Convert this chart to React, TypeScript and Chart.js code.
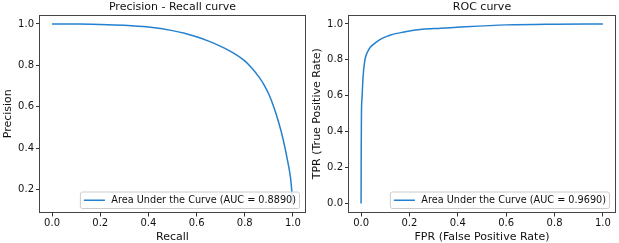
import React, { useEffect, useRef } from "react";
import { Chart, registerables } from "chart.js";

Chart.register(...registerables);

const FONT = "'DejaVu Sans', 'Liberation Sans', sans-serif";
const LINE_COLOR = "#2381cf";

// Precision - Recall curve
const prRecall = [0, 0.1, 0.2, 0.3, 0.4, 0.5, 0.55, 0.6, 0.65, 0.7, 0.75, 0.8, 0.83, 0.86, 0.88, 0.9, 0.92, 0.94, 0.96, 0.98, 0.99, 1.0];
const prPrecision = [1.0, 0.9995, 0.998, 0.994, 0.985, 0.968, 0.955, 0.938, 0.917, 0.892, 0.862, 0.822, 0.786, 0.742, 0.706, 0.66, 0.6, 0.527, 0.438, 0.325, 0.255, 0.13];
const prLabel = "Area Under the Curve (AUC = 0.8890)";

// ROC curve
const rocFpr = [0, 0.0005, 0.0015, 0.004, 0.008, 0.015, 0.025, 0.039, 0.06, 0.087, 0.122, 0.177, 0.253, 0.33, 0.426, 0.6, 0.8, 1.0];
const rocTpr = [0, 0.3, 0.5, 0.591, 0.702, 0.794, 0.84, 0.872, 0.896, 0.92, 0.939, 0.955, 0.97, 0.976, 0.984, 0.995, 0.999, 1.0];
const rocLabel = "Area Under the Curve (AUC = 0.9690)";

const xTickValues = [0, 0.2, 0.4, 0.6, 0.8, 1.0];

const framePlugin = {
  id: "frame",
  afterDatasetsDraw(chart: any) {
    const { ctx, chartArea: a } = chart;
    ctx.save();
    ctx.strokeStyle = "#444";
    ctx.lineWidth = 1;
    const l = Math.floor(a.left) - 0.5;
    const r = Math.floor(a.right) + 0.5;
    const t = Math.floor(a.top) + 0.5;
    const b = Math.floor(a.bottom) + 0.5;
    ctx.strokeRect(l, t, r - l, b - t);
    ctx.restore();
  },
};

const areaTitlePlugin = {
  id: "areaTitle",
  afterDraw(chart: any, _args: any, opts: any) {
    const { ctx, chartArea: a } = chart;
    ctx.save();
    ctx.font = `11px ${FONT}`;
    ctx.fillStyle = "#111";
    ctx.textAlign = "center";
    ctx.textBaseline = "middle";
    ctx.fillText(opts.text, (a.left + a.right) / 2, 7.2);
    ctx.restore();
  },
};

const boxLegendPlugin = {
  id: "boxLegend",
  afterDraw(chart: any) {
    const { ctx, chartArea: a } = chart;
    const ds = chart.data.datasets[0];
    const fs = 9.7;
    ctx.save();
    ctx.font = `${fs}px ${FONT}`;
    const tw = ctx.measureText(ds.label).width;
    const w = 31 + tw + 3.5;
    const h = 16.5;
    const x2 = a.right - 5.5;
    const y2 = a.bottom - 4;
    const x1 = x2 - w;
    const y1 = y2 - h;
    ctx.beginPath();
    ctx.roundRect(x1, y1, w, h, 2);
    ctx.fillStyle = "rgba(255,255,255,0.8)";
    ctx.fill();
    ctx.strokeStyle = "#cccccc";
    ctx.lineWidth = 1;
    ctx.stroke();
    const cy = y1 + h / 2;
    ctx.beginPath();
    ctx.moveTo(x1 + 3.5, cy);
    ctx.lineTo(x1 + 24.5, cy);
    ctx.strokeStyle = ds.borderColor;
    ctx.lineWidth = 1.5;
    ctx.stroke();
    ctx.fillStyle = "#111";
    ctx.textBaseline = "middle";
    ctx.textAlign = "left";
    ctx.fillText(ds.label, x1 + 31, cy + 0.5);
    ctx.restore();
  },
};

function makeConfig(
  title: string,
  xs: number[],
  ys: number[],
  label: string,
  xTitle: string,
  yTitle: string,
  yMin: number,
  yMax: number,
  yStep: number
): any {
  return {
    type: "scatter",
    data: {
      datasets: [
        {
          label,
          data: xs.map((x, i) => ({ x, y: ys[i] })),
          showLine: true,
          borderColor: LINE_COLOR,
          backgroundColor: LINE_COLOR,
          borderWidth: 1.5,
          pointRadius: 0,
          cubicInterpolationMode: "monotone",
        },
      ],
    },
    options: {
      animation: false,
      responsive: false,
      devicePixelRatio: 1,
      layout: { padding: { left: 0, right: 4, top: 15, bottom: 0 } },
      plugins: {
        legend: { display: false },
        tooltip: { enabled: false },
        title: { display: false },
        areaTitle: { text: title },
      },
      scales: {
        x: {
          type: "linear",
          min: -0.05,
          max: 1.05,
          afterBuildTicks: (s: any) => {
            s.ticks = xTickValues.map((v) => ({ value: v }));
          },
          ticks: {
            autoSkip: false,
            maxRotation: 0,
            padding: 1,
            color: "#111",
            font: { family: FONT, size: 10 },
            callback: (v: any) => Number(v).toFixed(1),
          },
          grid: { drawOnChartArea: false, drawTicks: true, tickLength: 4, color: "#333", lineWidth: 1 },
          border: { display: false },
          title: {
            display: true,
            text: xTitle,
            color: "#111",
            font: { family: FONT, size: 11 },
            padding: { top: 0, bottom: -1 },
          },
          afterFit: (s: any) => {
            s.height = 30.5;
          },
        },
        y: {
          type: "linear",
          min: yMin,
          max: yMax,
          afterBuildTicks: (s: any) => {
            const t: any[] = [];
            for (let v = Math.ceil(yMin / yStep) * yStep; v <= yMax + 1e-9; v += yStep) {
              t.push({ value: Math.round(v * 10) / 10 });
            }
            s.ticks = t;
          },
          ticks: {
            autoSkip: false,
            padding: 2,
            color: "#111",
            font: { family: FONT, size: 10 },
            callback: (v: any) => Number(v).toFixed(1),
          },
          grid: { drawOnChartArea: false, drawTicks: true, tickLength: 4, color: "#333", lineWidth: 1 },
          border: { display: false },
          title: {
            display: true,
            text: yTitle,
            color: "#111",
            font: { family: FONT, size: 11 },
            padding: { top: 2, bottom: 0 },
          },
          afterFit: (s: any) => {
            s.width = 40;
          },
        },
      },
    },
    plugins: [framePlugin, boxLegendPlugin, areaTitlePlugin],
  };
}

function ChartCanvas({ config, width, height }: { config: any; width: number; height: number }) {
  const ref = useRef<HTMLCanvasElement | null>(null);
  useEffect(() => {
    if (!ref.current) return;
    const chart = new Chart(ref.current, config);
    return () => chart.destroy();
  }, [config]);
  return <canvas ref={ref} width={width} height={height} style={{ width, height, display: "block" }} />;
}

const prConfig = makeConfig("Precision - Recall curve", prRecall, prPrecision, prLabel, "Recall", "Precision", 0.0885, 1.0435, 0.2);
const rocConfig = makeConfig("ROC curve", rocFpr, rocTpr, rocLabel, "FPR (False Positive Rate)", "TPR (True Positive Rate)", -0.05, 1.05, 0.2);

export default function App() {
  return (
    <div style={{ position: "absolute", left: 0, top: 0, width: 619, height: 243, background: "#fff" }}>
      <div style={{ position: "absolute", left: 0, top: 0 }}>
        <ChartCanvas config={prConfig} width={309} height={243} />
      </div>
      <div style={{ position: "absolute", left: 309, top: 0 }}>
        <ChartCanvas config={rocConfig} width={310} height={243} />
      </div>
    </div>
  );
}
